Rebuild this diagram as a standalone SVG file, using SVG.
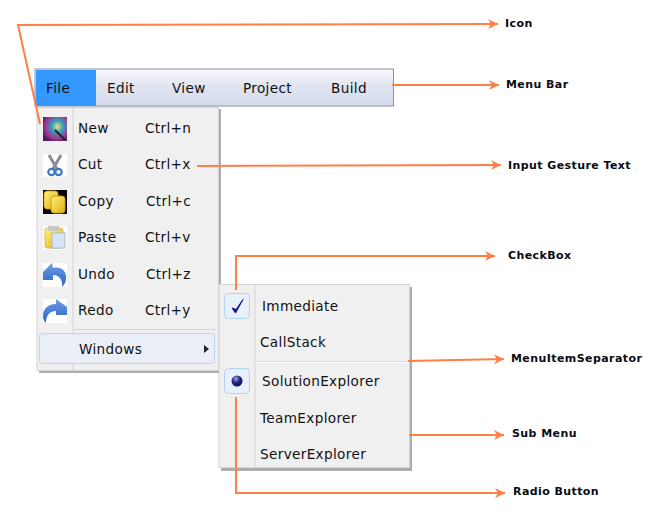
<svg xmlns="http://www.w3.org/2000/svg" width="654" height="519" viewBox="0 0 654 519">
<defs>
<linearGradient id="bar" x1="0" y1="0" x2="0" y2="1"><stop offset="0" stop-color="#f8f9fc"/><stop offset="0.5" stop-color="#dfe3f0"/><stop offset="1" stop-color="#d6dcee"/></linearGradient>
<radialGradient id="ball" cx="0.4" cy="0.3" r="0.7"><stop offset="0" stop-color="#a9a9e0"/><stop offset="0.5" stop-color="#26268a"/><stop offset="1" stop-color="#0e0e50"/></radialGradient>
<linearGradient id="gold" x1="0" y1="0" x2="1" y2="1"><stop offset="0" stop-color="#fff27a"/><stop offset="1" stop-color="#e0ae10"/></linearGradient>
<linearGradient id="blue" x1="0" y1="0" x2="0" y2="1"><stop offset="0" stop-color="#6f9fe8"/><stop offset="1" stop-color="#2a62c4"/></linearGradient>
<radialGradient id="wand" cx="0.6" cy="0.4" r="0.7"><stop offset="0" stop-color="#f4e070"/><stop offset="0.35" stop-color="#30a0c0"/><stop offset="0.7" stop-color="#a03a90"/><stop offset="1" stop-color="#4a1a60"/></radialGradient>
<marker id="arr" markerWidth="12" markerHeight="12" refX="10" refY="5" orient="auto" markerUnits="userSpaceOnUse"><path d="M0,0 L10,5 L0,10 L3,5 Z" fill="#ff7f45"/></marker>
</defs>
<style>
text{font-family:"DejaVu Sans",Verdana,sans-serif;fill:#111}
.m{font-size:13.6px;letter-spacing:.35px}
.l{font-size:11px;font-weight:bold;fill:#0a0a14;letter-spacing:.42px}
.c{fill:none;stroke:#ff7f45;stroke-width:2}
.panel{fill:#f0f0f0;stroke:#d4d4d4}
.shadow{fill:#adadad}
.sep{stroke:#d4d4d4;fill:none}
.chk{fill:#e8f0fa;stroke:#b4d0f4}
</style>
<rect width="654" height="519" fill="#fff"/>

<g id="menubar">
<rect x="35" y="69" width="358.500" height="37" fill="url(#bar)" stroke="#8a90a4"/>
<rect x="36" y="70" width="60" height="36" fill="#3399ff"/>
<text class="m" x="46" y="93">File</text>
<text class="m" x="107" y="93">Edit</text>
<text class="m" x="172" y="93">View</text>
<text class="m" x="243" y="93">Project</text>
<text class="m" x="331" y="93">Build</text>
</g>

<g id="file-menu">
<rect class="shadow" x="39" y="109" width="182" height="264"/>
<rect class="panel" x="37" y="107.500" width="181.500" height="263"/>
<line class="sep" x1="73" y1="108" x2="73" y2="370"/>
<line class="sep" x1="73" y1="329.500" x2="217" y2="329.500"/>
<g id="icon-new"><rect x="43" y="117" width="24" height="24" fill="url(#wand)"/><line x1="55" y1="130" x2="65" y2="140" stroke="#222" stroke-width="2"/></g>
<g id="icon-cut"><rect x="43" y="154" width="24" height="23" fill="#fff"/><path d="M49,155 L57,169 M61,155 L53,169" stroke="#8c8c94" stroke-width="3" fill="none"/><circle cx="51.500" cy="172" r="3.200" fill="none" stroke="#3a78c8" stroke-width="2.200"/><circle cx="58.500" cy="172" r="3.200" fill="none" stroke="#3a78c8" stroke-width="2.200"/></g>
<g id="icon-copy"><rect x="43" y="190" width="24" height="24" fill="#000"/><rect x="44" y="191" width="14" height="18" rx="3" fill="url(#gold)" stroke="#c89810"/><rect x="51" y="196" width="14" height="17" rx="3" fill="url(#gold)" stroke="#c89810"/></g>
<g id="icon-paste"><rect x="43" y="226" width="24" height="24" fill="#fff"/><rect x="45" y="228" width="18" height="20" rx="2" fill="url(#gold)" stroke="#d8b860"/><rect x="48" y="226" width="11" height="5" rx="1" fill="#c8c8c0"/><rect x="52" y="233" width="13" height="15" fill="#d4e4f4" stroke="#a8bcd4"/></g>
<g id="icon-undo"><rect x="43" y="263" width="24" height="24" fill="#fff"/><path d="M43,272 L52,263 L53,268 C62,266 67,272 66,279 C66,282 64,285 62,287 C63,281 60,275 53,275 L53,280 L43,280 Z" fill="url(#blue)"/></g>
<g id="icon-redo"><rect x="43" y="299" width="24" height="24" fill="#fff"/><path d="M67,307 L56,299 L56,304 C47,304 43,310 43,316 C43,319 44,321 46,323 C46,316 49,311 56,311 L56,315 L67,315 Z" fill="url(#blue)"/></g>
<text class="m" x="78" y="133">New</text><text class="m" x="145" y="133">Ctrl+n</text>
<text class="m" x="78" y="169">Cut</text><text class="m" x="145" y="169">Ctrl+x</text>
<text class="m" x="78" y="206">Copy</text><text class="m" x="146" y="206">Ctrl+c</text>
<text class="m" x="78" y="242">Paste</text><text class="m" x="145" y="242">Ctrl+v</text>
<text class="m" x="78" y="279">Undo</text><text class="m" x="146" y="279">Ctrl+z</text>
<text class="m" x="78" y="315">Redo</text><text class="m" x="145" y="315">Ctrl+y</text>
<rect x="39.500" y="333.500" width="175" height="30" rx="3" fill="#e9eef7" stroke="#b8d4f6"/>
<text class="m" x="79" y="354">Windows</text>
<path d="M204,345 L209,349 L204,353 Z" fill="#222"/>
</g>

<g id="sub-menu">
<rect class="shadow" x="221" y="287" width="191" height="184"/>
<rect class="panel" x="219" y="284.500" width="190.500" height="183"/>
<line class="sep" x1="255" y1="285" x2="255" y2="467"/>
<line x1="255" y1="361.500" x2="409" y2="361.500" stroke="#d8d8d8"/>
<line x1="255" y1="362.500" x2="409" y2="362.500" stroke="#fff"/>
<g id="checkbox"><rect class="chk" x="224.500" y="293.500" width="25" height="25" rx="4"/><path d="M232,308 L235.500,313 L243,299.500 L236,309.500 Z" fill="#10108a" stroke="#10108a"/></g>
<g id="radio"><rect class="chk" x="224.500" y="368.500" width="25" height="25" rx="4"/><circle cx="237" cy="381" r="5.500" fill="url(#ball)"/></g>
<text class="m" x="262" y="311">Immediate</text>
<text class="m" x="260" y="347">CallStack</text>
<text class="m" x="262" y="386">SolutionExplorer</text>
<text class="m" x="260" y="423">TeamExplorer</text>
<text class="m" x="260" y="459">ServerExplorer</text>
</g>

<g id="connectors">
<path class="c" d="M40,124 L18,25 L498,24" marker-end="url(#arr)"/>
<line class="c" x1="392" y1="85" x2="499" y2="85" marker-end="url(#arr)"/>
<line class="c" x1="197" y1="166" x2="501" y2="165" marker-end="url(#arr)"/>
<path class="c" d="M236,290 L236,256 L495,256" marker-end="url(#arr)"/>
<line class="c" x1="408" y1="361" x2="504" y2="359" marker-end="url(#arr)"/>
<line class="c" x1="409" y1="435" x2="504" y2="435" marker-end="url(#arr)"/>
<path class="c" d="M236,397 L236,493 L505,493" marker-end="url(#arr)"/>
</g>

<g id="labels">
<text class="l" x="505" y="27">Icon</text>
<text class="l" x="506" y="88">Menu Bar</text>
<text class="l" x="508" y="169">Input Gesture Text</text>
<text class="l" x="508" y="259">CheckBox</text>
<text class="l" x="511" y="362">MenuItemSeparator</text>
<text class="l" x="512" y="437">Sub Menu</text>
<text class="l" x="513" y="495">Radio Button</text>
</g>
</svg>
